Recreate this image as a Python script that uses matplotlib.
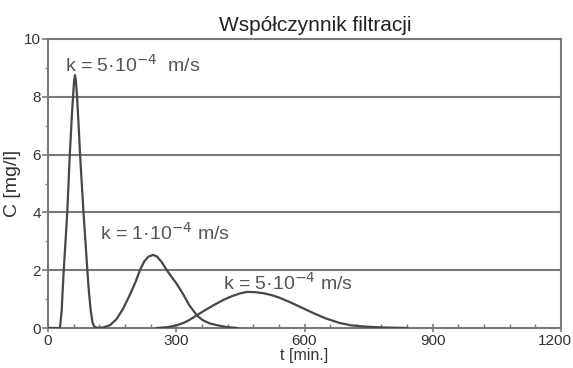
import matplotlib
matplotlib.use("Agg")
import matplotlib.pyplot as plt
from matplotlib.ticker import MultipleLocator
import matplotlib.transforms as mtransforms

# Data
t1 = [0, 28, 32, 36, 41, 45, 51, 56, 59, 61, 63, 65, 68, 72, 75, 79, 83, 88, 92, 96, 100, 104, 108, 115]
c1 = [0, 0, 0.6, 1.8, 3.0, 4.0, 6.0, 7.4, 8.1, 8.55, 8.75, 8.6, 8.0, 6.9, 6.0, 5.0, 4.0, 2.9, 2.0, 1.2, 0.6, 0.2, 0.05, 0]

t2 = [110, 130, 145, 160, 175, 190, 205, 215, 225, 235, 246, 255, 265, 278, 290, 300, 315, 330, 348, 362, 378, 395, 415, 442]
c2 = [0, 0.02, 0.1, 0.3, 0.65, 1.1, 1.6, 2.0, 2.3, 2.47, 2.53, 2.47, 2.3, 2.0, 1.75, 1.55, 1.2, 0.8, 0.44, 0.27, 0.16, 0.1, 0.04, 0]

t3 = [255, 280, 300, 316, 330, 348, 370, 390, 410, 430, 450, 466, 485, 505, 525, 543, 565, 590, 620, 650, 683, 710, 740, 780, 840]
c3 = [0, 0.03, 0.09, 0.17, 0.27, 0.44, 0.64, 0.81, 0.97, 1.1, 1.2, 1.25, 1.24, 1.2, 1.13, 1.04, 0.9, 0.73, 0.52, 0.33, 0.17, 0.09, 0.05, 0.02, 0]

labels = ["k = 5·10$^{-4}$  m/s", "k = 1·10$^{-4}$ m/s", "k = 5·10$^{-4}$ m/s"]
label_pos = [(199, 9.1), (274, 3.3), (562, 1.55)]

xticks = [0, 300, 600, 900, 1200]
yticks = [0, 2, 4, 6, 8, 10]

title = "Współczynnik filtracji"
xlabel = "t [min.]"
ylabel = "C [mg/l]"

plt.rcParams['font.family'] = ['Liberation Sans', 'DejaVu Sans']

fig = plt.figure(figsize=(5.73, 3.68), dpi=100)
ax = fig.add_axes([48/573, 40/368, (561-48)/573, (328-39)/368])

grid_c = '#7a7a7a'
line_c = '#474747'
text_c = '#555555'

for y in yticks[1:-1]:
    ax.axhline(y, color=grid_c, lw=1.5, zorder=1)

ax.plot(t1, c1, color=line_c, lw=1.6, zorder=3)
ax.plot(t2, c2, color=line_c, lw=1.6, zorder=3)
ax.plot(t3, c3, color=line_c, lw=1.6, zorder=3)

for lab, (x, y) in zip(labels, label_pos):
    ax.text(x, y, lab, ha='center', va='center', fontsize=14, color=text_c, zorder=4)

ax.set_xlim(0, 1200)
ax.set_ylim(0, 10)
ax.set_xticks(xticks)
ax.set_yticks(yticks)
ax.xaxis.set_minor_locator(MultipleLocator(60))
ax.yaxis.set_minor_locator(MultipleLocator(1))

for s in ax.spines.values():
    s.set_color(grid_c)
    s.set_linewidth(1.5)

ax.tick_params(axis='x', which='major', direction='inout', length=6, width=1.2, color=grid_c, labelsize=11, labelcolor='#333333', pad=1)
ax.tick_params(axis='x', which='minor', direction='in', length=3, width=1, color=grid_c)
ax.tick_params(axis='y', which='major', direction='out', length=4, width=1.2, color=grid_c, labelsize=11, labelcolor='#333333', pad=1)
ax.tick_params(axis='y', which='minor', direction='out', length=2, width=1, color=grid_c)

ax.set_title(title, fontsize=15, color='#222222', pad=6, x=0.52)
ax.set_xlabel(xlabel, fontsize=11.5, color='#333333', labelpad=0)
ax.set_ylabel(ylabel, fontsize=14, color='#333333', labelpad=2)

fig.canvas.draw()
for lbl in ax.get_xticklabels():
    if lbl.get_text() == '1200':
        lbl.set_transform(lbl.get_transform() + mtransforms.ScaledTranslation(-6/100, 0, fig.dpi_scale_trans))

fig.savefig("out.png", dpi=100)
